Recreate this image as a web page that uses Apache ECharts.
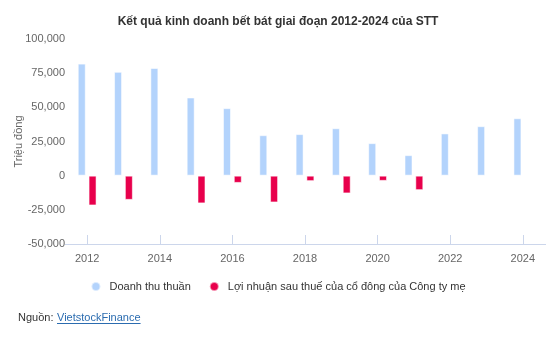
<!DOCTYPE html>
<html>
<head>
<meta charset="utf-8">
<script src="https://cdn.jsdelivr.net/npm/echarts@6/dist/echarts.min.js"></script>
<style>
html,body{margin:0;padding:0;background:#fff;}
#chart{width:556px;height:340px;}
</style>
</head>
<body>
<div id="chart"></div>
<script>
var categories = ['2012','2013','2014','2015','2016','2017','2018','2019','2020','2021','2022','2023','2024'];
var revenue = [82000, 76000, 78800, 57200, 49400, 29600, 30400, 34700, 23800, 15000, 30900, 36200, 42000];
var netProfit = [-21800, -17700, -600, -20300, -5300, -19600, -4000, -13000, -3800, -10600, -150, -200, -120];
var yTicks = { min: -50000, max: 100000, interval: 25000 };
var seriesNames = ['Doanh thu thuần', 'Lợi nhuận sau thuế của cổ đông của Công ty mẹ'];
var titleText = 'Kết quả kinh doanh bết bát giai đoạn 2012-2024 của STT';

var FONT = '"Liberation Sans", Arial, sans-serif';
function textWidth(t, size) {
  var c = document.createElement('canvas').getContext('2d');
  c.font = size + 'px ' + FONT;
  return c.measureText(t).width;
}
var linkW = textWidth('VietstockFinance', 11);

var chart = echarts.init(document.getElementById('chart'), null, {renderer: 'canvas'});
chart.setOption({
  animation: false,
  textStyle: {fontFamily: FONT},
  title: {
    text: titleText,
    left: 'center',
    top: 11,
    textStyle: {fontSize: 12, fontWeight: 'bold', color: '#333', fontFamily: FONT}
  },
  legend: {
    top: 276,
    left: 'center',
    icon: 'circle',
    itemWidth: 9,
    itemHeight: 9,
    itemGap: 18,
    textStyle: {fontSize: 11, color: '#333', fontFamily: FONT, padding: [0, 0, 0, 4]},
    data: seriesNames
  },
  grid: {left: 69, right: 15, top: 39, bottom: 96, containLabel: false, outerBoundsMode: 'none'},
  xAxis: {
    type: 'category',
    data: categories,
    axisLine: {onZero: false, lineStyle: {color: '#ccd6eb'}},
    axisTick: {show: true, inside: true, length: 9, alignWithLabel: true, interval: 1, lineStyle: {color: '#ccd6eb'}},
    axisLabel: {interval: 1, color: '#666', fontSize: 11, margin: 9, fontFamily: FONT}
  },
  yAxis: {
    type: 'value',
    min: yTicks.min,
    max: yTicks.max,
    interval: yTicks.interval,
    name: 'Triệu đồng',
    nameLocation: 'middle',
    nameRotate: 90,
    nameGap: 45,
    nameMoveOverlap: false,
    nameTextStyle: {color: '#666', fontSize: 11, fontFamily: FONT},
    axisLine: {show: false},
    axisTick: {show: false},
    splitLine: {show: false},
    axisLabel: {
      color: '#666', fontSize: 11, margin: 4, fontFamily: FONT,
      formatter: function (v) { return v.toLocaleString('en-US'); }
    }
  },
  series: [
    {
      name: seriesNames[0],
      type: 'bar',
      data: revenue,
      barWidth: 8,
      barGap: '35%',
      itemStyle: {color: '#b3d3fc', borderColor: 'rgba(255,255,255,0.55)', borderWidth: 1}
    },
    {
      name: seriesNames[1],
      type: 'bar',
      data: netProfit,
      barWidth: 8,
      itemStyle: {color: '#e8004c', borderColor: 'rgba(255,255,255,0.55)', borderWidth: 1}
    }
  ],
  graphic: [
    {
      type: 'line', shape: {x1: 65, y1: 244.5, x2: 546, y2: 244.5},
      style: {stroke: '#ccd6eb', lineWidth: 1}, z: -1
    },
    {
      type: 'text', left: 18, top: 312,
      style: {text: 'Nguồn:', fontSize: 11, fill: '#333', fontFamily: FONT}
    },
    {
      type: 'text', left: 57, top: 312,
      style: {text: 'VietstockFinance', fontSize: 11, fill: '#2b6cb0', fontFamily: FONT}
    },
    {
      type: 'line', shape: {x1: 57, y1: 323.5, x2: 57 + linkW, y2: 323.5},
      style: {stroke: '#2b6cb0', lineWidth: 1}
    }
  ]
});
</script>
</body>
</html>
